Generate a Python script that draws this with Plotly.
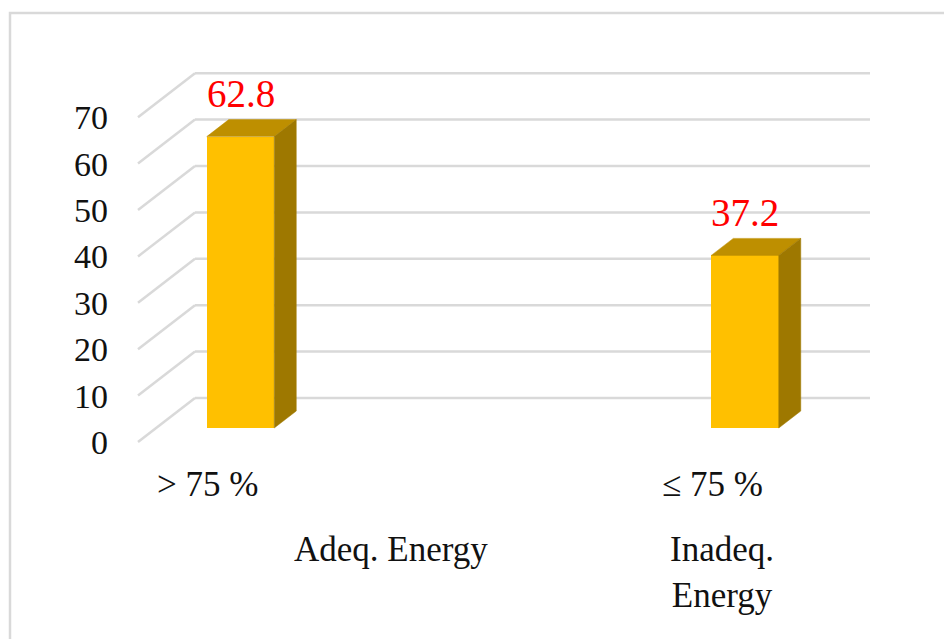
import plotly.graph_objects as go

# ---- data ----
levels = ["> 75 %", "≤ 75 %"]
groups = ["Adeq. Energy", "Inadeq.<br>Energy"]
values = [62.8, 37.2]
y_ticks = [0, 10, 20, 30, 40, 50, 60, 70]

# ---- layout constants (pixels) ----
W, H = 944, 639
L, R, T, B = 109, 900, 60, 470
PX_PER_CAT = 504.5      # pixels between category centres
X0_PX = 240.5           # pixel of first bar's front-face centre
PX_PER_VAL = 4.64       # pixels per value unit
Y0_PX = 442.0           # pixel of value 0 on the front plane

DEPTH_DX = 57 / PX_PER_CAT   # full depth shift in x-units
DEPTH_DY = 44 / PX_PER_VAL   # full depth shift in y-units
BAR_D0 = 14 / 44             # depth of bar front face
BAR_DD = 17 / 44             # bar depth
BAR_W = 67.5 / PX_PER_CAT

GRID_X_FRONT = (138 - X0_PX) / PX_PER_CAT
GRID_X_BACK_R = (870 - X0_PX) / PX_PER_CAT

xr = [(L - X0_PX) / PX_PER_CAT, (R - X0_PX) / PX_PER_CAT]
yr = [(Y0_PX - B) / PX_PER_VAL, (Y0_PX - T) / PX_PER_VAL]

FRONT = "#FFC000"
TOP = "#BE8F00"
SIDE = "#9E7800"
GRID = "#D9D9D9"
FONT = "Liberation Serif"

fig = go.Figure()

shapes = []
for v in y_ticks:
    # diagonal on the side wall
    shapes.append(dict(type="line", xref="x", yref="y", layer="below",
                       x0=GRID_X_FRONT, y0=v,
                       x1=GRID_X_FRONT + DEPTH_DX, y1=v + DEPTH_DY,
                       line=dict(color=GRID, width=2.5)))
    # back wall line
    shapes.append(dict(type="line", xref="x", yref="y", layer="below",
                       x0=GRID_X_FRONT + DEPTH_DX, y0=v + DEPTH_DY,
                       x1=GRID_X_BACK_R, y1=v + DEPTH_DY,
                       line=dict(color=GRID, width=2.5)))

# outer chart border
def px_to_paper_x(px):
    return (px - L) / (R - L)

def px_to_paper_y(py):
    return (B - py) / (B - T)

shapes.append(dict(type="rect", xref="paper", yref="paper", layer="below",
                   x0=px_to_paper_x(10), y0=px_to_paper_y(660),
                   x1=px_to_paper_x(960), y1=px_to_paper_y(13),
                   line=dict(color=GRID, width=2.5), fillcolor="rgba(0,0,0,0)"))

xs = list(range(len(values)))
base = BAR_D0 * DEPTH_DY
fig.add_trace(go.Bar(x=xs, y=values, base=[base] * len(values), width=BAR_W,
                     marker=dict(color=FRONT, line=dict(width=0)),
                     hoverinfo="skip", showlegend=False))

dx = BAR_DD * DEPTH_DX
dy = BAR_DD * DEPTH_DY
for i, v in zip(xs, values):
    xl, xrr = i - BAR_W / 2, i + BAR_W / 2
    top = base + v
    # top face
    fig.add_trace(go.Scatter(x=[xl, xrr, xrr + dx, xl + dx, xl],
                             y=[top, top, top + dy, top + dy, top],
                             fill="toself", fillcolor=TOP, mode="lines",
                             line=dict(color=TOP, width=0.5),
                             hoverinfo="skip", showlegend=False))
    # side face
    fig.add_trace(go.Scatter(x=[xrr, xrr + dx, xrr + dx, xrr, xrr],
                             y=[base, base + dy, top + dy, top, base],
                             fill="toself", fillcolor=SIDE, mode="lines",
                             line=dict(color=SIDE, width=0.5),
                             hoverinfo="skip", showlegend=False))

annotations = []
for i, v in zip(xs, values):
    annotations.append(dict(x=i, y=base + v, xref="x", yref="y",
                            text=f"{v:.1f}", showarrow=False, yshift=43,
                            yanchor="middle", xanchor="center",
                            font=dict(family=FONT, size=39, color="#FF0000")))

LEVEL_DX = -33 / PX_PER_CAT
for i, t in zip(xs, levels):
    annotations.append(dict(x=i + LEVEL_DX, y=px_to_paper_y(484), xref="x", yref="paper",
                            text=t, showarrow=False, xanchor="center", yanchor="middle",
                            font=dict(family=FONT, size=35, color="#111111")))

group_px = [391, 722]
for gx, t in zip(group_px, groups):
    annotations.append(dict(x=(gx - X0_PX) / PX_PER_CAT, y=px_to_paper_y(528), xref="x", yref="paper",
                            text=t, showarrow=False, xanchor="center", yanchor="top",
                            align="center",
                            font=dict(family=FONT, size=35, color="#111111")))

fig.update_layout(
    width=W, height=H,
    margin=dict(l=L, r=W - R, t=T, b=H - B),
    paper_bgcolor="white", plot_bgcolor="white",
    shapes=shapes, annotations=annotations,
    showlegend=False, bargap=0,
    xaxis=dict(range=xr, visible=False, fixedrange=True),
    yaxis=dict(range=yr, tickvals=y_ticks, ticktext=[str(v) for v in y_ticks],
               showgrid=False, zeroline=False, showline=False, ticks="",
               tickfont=dict(family=FONT, size=34, color="#111111"),
               fixedrange=True),
)

fig.write_html("out.html")
